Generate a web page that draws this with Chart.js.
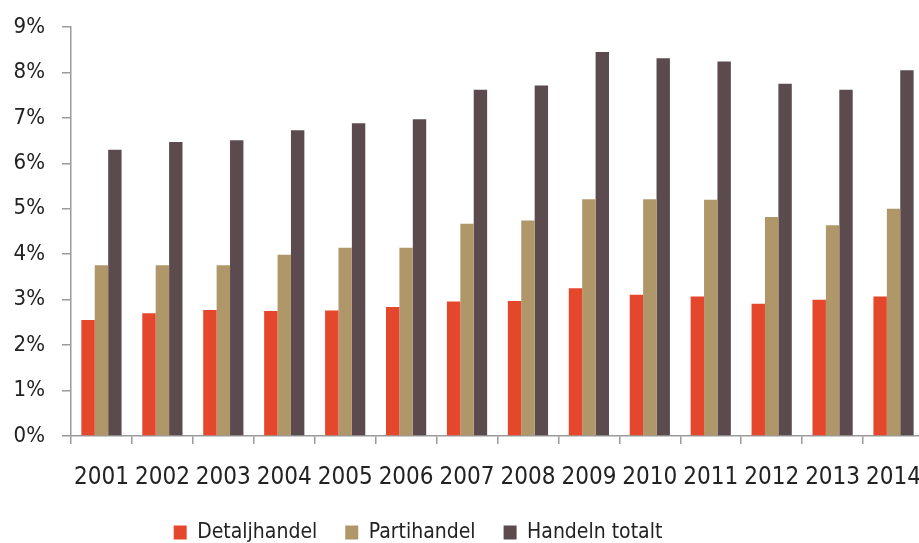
<!DOCTYPE html>
<html>
<head>
<meta charset="utf-8">
<script src="https://cdn.jsdelivr.net/npm/chart.js@4/dist/chart.umd.min.js"></script>
<style>
  html, body { margin: 0; padding: 0; background: #fff; overflow: hidden; }
  #wrap { width: 919px; height: 543px; overflow: hidden; }
  #chartHandel { display: block; width: 936px; height: 543px; }
</style>
</head>
<body>
<div id="wrap"><canvas id="chartHandel" width="936" height="543"></canvas></div>
<script>
// Andel per år, procent
const years = ['2001','2002','2003','2004','2005','2006','2007','2008','2009','2010','2011','2012','2013','2014'];
const detaljhandel = [2.55, 2.70, 2.77, 2.75, 2.76, 2.84, 2.96, 2.97, 3.25, 3.11, 3.07, 2.91, 3.00, 3.07];
const partihandel  = [3.76, 3.76, 3.76, 3.99, 4.14, 4.14, 4.67, 4.74, 5.21, 5.21, 5.20, 4.82, 4.64, 5.00];
const handelnTotalt = [6.30, 6.47, 6.51, 6.73, 6.88, 6.97, 7.62, 7.71, 8.45, 8.31, 8.24, 7.75, 7.62, 8.05];

const fontFam = '"Liberation Sans Narrow", "DejaVu Sans Condensed", "Open Sans", sans-serif';
const axisGray = '#9a9a9a';
const textColor = '#222';

// flytta legenden lite åt vänster, som i originalet
const legendShift = {
  id: 'legendShift',
  afterLayout(chart) {
    chart.legend.left -= 44;
    chart.legend.right -= 44;
  }
};

window.addEventListener('DOMContentLoaded', function() {
  const ctx = document.getElementById('chartHandel').getContext('2d');
  new Chart(ctx, {
    type: 'bar',
    data: {
      labels: years,
      datasets: [
        { label: 'Detaljhandel', data: detaljhandel, backgroundColor: '#e5472c' },
        { label: 'Partihandel', data: partihandel, backgroundColor: '#b09769' },
        { label: 'Handeln totalt', data: handelnTotalt, backgroundColor: '#5b4b4f' }
      ]
    },
    plugins: [legendShift],
    options: {
      responsive: false,
      animation: false,
      devicePixelRatio: 1,
      datasets: {
        bar: { categoryPercentage: 0.66, barPercentage: 1.0 }
      },
      layout: { padding: { top: 27, right: 12, left: 0, bottom: -10 } },
      plugins: {
        tooltip: { enabled: false },
        legend: {
          position: 'bottom',
          labels: {
            color: textColor,
            font: { family: fontFam, size: 21 },
            boxWidth: 13,
            boxHeight: 14,
            padding: 10,
            generateLabels: chart => {
              const items = Chart.defaults.plugins.legend.labels.generateLabels(chart);
              items.forEach((it, i) => {
                it.lineWidth = 0;
                if (i < items.length - 1) it.text = it.text + '   ';
              });
              return items;
            }
          }
        }
      },
      scales: {
        x: {
          afterFit: s => { s.paddingLeft = 0; s.paddingRight = 0; },
          grid: {
            display: true,
            drawOnChartArea: false,
            drawTicks: true,
            tickLength: 8,
            color: axisGray,
            lineWidth: 1.5
          },
          border: { color: axisGray, width: 1.5 },
          ticks: {
            color: textColor,
            font: { family: fontFam, size: 24, lineHeight: 1 },
            padding: 22,
            maxRotation: 0,
            autoSkip: false
          }
        },
        y: {
          min: 0,
          max: 9,
          afterFit: s => { s.width = 71; s.paddingTop = 0; s.paddingBottom = 0; },
          grid: {
            display: true,
            drawOnChartArea: false,
            drawTicks: true,
            tickLength: 9,
            color: axisGray,
            lineWidth: 1.5
          },
          border: { color: axisGray, width: 1.5 },
          ticks: {
            stepSize: 1,
            color: textColor,
            font: { family: fontFam, size: 22 },
            padding: 17,
            callback: v => v + '%'
          }
        }
      }
    }
  });
});
</script>
</body>
</html>
